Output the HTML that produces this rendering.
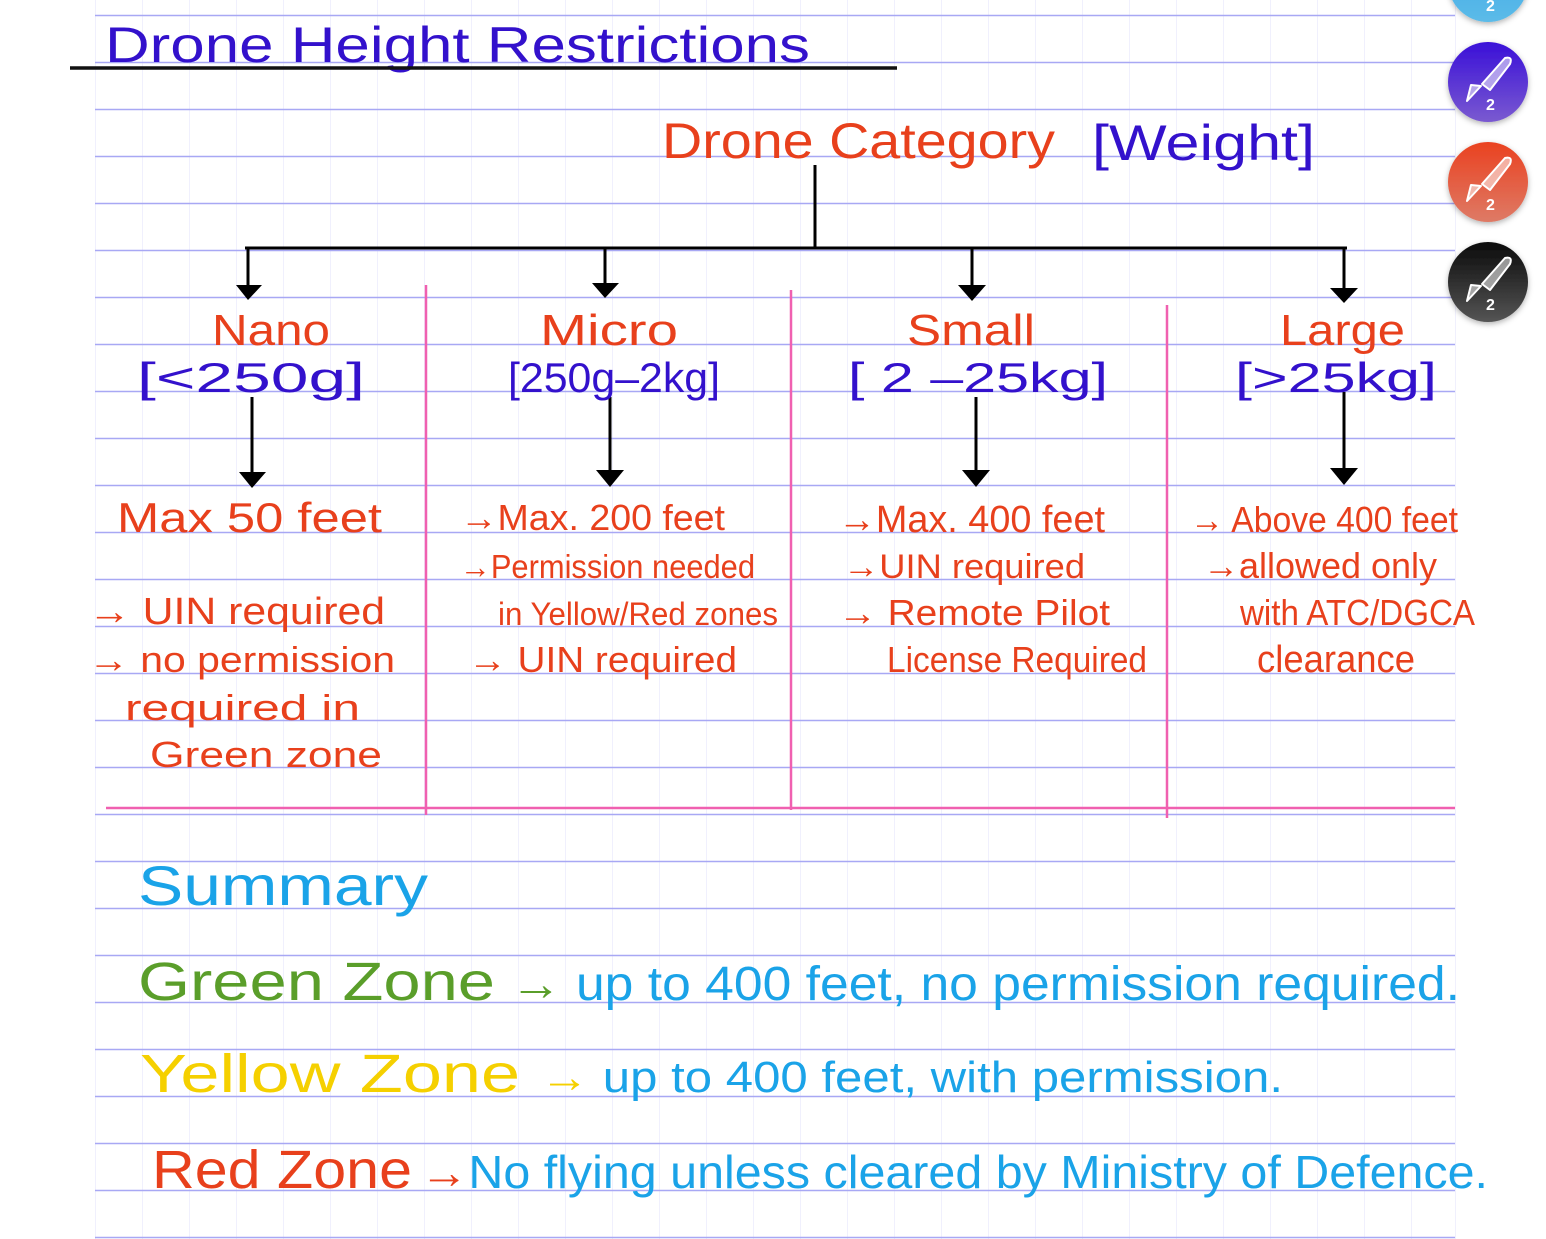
<!DOCTYPE html>
<html><head><meta charset="utf-8"><style>
html,body{margin:0;padding:0;background:#fff;}
svg{display:block;}
text{font-family:"Liberation Sans",sans-serif;}
</style></head><body>
<svg width="1546" height="1239" viewBox="0 0 1546 1239" xmlns="http://www.w3.org/2000/svg">
<defs>
<linearGradient id="gc" x1="0" y1="0" x2="0" y2="1"><stop offset="0" stop-color="#3aa6e6"/><stop offset="1" stop-color="#5cbbe8"/></linearGradient>
<linearGradient id="gp" x1="0" y1="0" x2="0" y2="1"><stop offset="0" stop-color="#3a10d8"/><stop offset="1" stop-color="#7a5ad0"/></linearGradient>
<linearGradient id="gr" x1="0" y1="0" x2="0" y2="1"><stop offset="0" stop-color="#ea4220"/><stop offset="1" stop-color="#de7a66"/></linearGradient>
<linearGradient id="gk" x1="0" y1="0" x2="0" y2="1"><stop offset="0" stop-color="#0a0a0a"/><stop offset="1" stop-color="#555"/></linearGradient>
<filter id="sh" x="-30%" y="-30%" width="160%" height="160%"><feDropShadow dx="0" dy="2" stdDeviation="3" flood-opacity="0.3"/></filter>
</defs>
<g stroke="#f0f0fd" stroke-width="1">
<line x1="95.5" y1="0" x2="95.5" y2="1239"/><line x1="142.5" y1="0" x2="142.5" y2="1239"/><line x1="189.5" y1="0" x2="189.5" y2="1239"/><line x1="236.5" y1="0" x2="236.5" y2="1239"/><line x1="283.5" y1="0" x2="283.5" y2="1239"/><line x1="330.5" y1="0" x2="330.5" y2="1239"/><line x1="377.5" y1="0" x2="377.5" y2="1239"/><line x1="424.5" y1="0" x2="424.5" y2="1239"/><line x1="471.5" y1="0" x2="471.5" y2="1239"/><line x1="518.5" y1="0" x2="518.5" y2="1239"/><line x1="565.5" y1="0" x2="565.5" y2="1239"/><line x1="612.5" y1="0" x2="612.5" y2="1239"/><line x1="659.5" y1="0" x2="659.5" y2="1239"/><line x1="706.5" y1="0" x2="706.5" y2="1239"/><line x1="753.5" y1="0" x2="753.5" y2="1239"/><line x1="800.5" y1="0" x2="800.5" y2="1239"/><line x1="847.5" y1="0" x2="847.5" y2="1239"/><line x1="894.5" y1="0" x2="894.5" y2="1239"/><line x1="941.5" y1="0" x2="941.5" y2="1239"/><line x1="988.5" y1="0" x2="988.5" y2="1239"/><line x1="1035.5" y1="0" x2="1035.5" y2="1239"/><line x1="1082.5" y1="0" x2="1082.5" y2="1239"/><line x1="1129.5" y1="0" x2="1129.5" y2="1239"/><line x1="1176.5" y1="0" x2="1176.5" y2="1239"/><line x1="1223.5" y1="0" x2="1223.5" y2="1239"/><line x1="1270.5" y1="0" x2="1270.5" y2="1239"/><line x1="1317.5" y1="0" x2="1317.5" y2="1239"/><line x1="1364.5" y1="0" x2="1364.5" y2="1239"/><line x1="1411.5" y1="0" x2="1411.5" y2="1239"/><line x1="1455.5" y1="0" x2="1455.5" y2="1239"/>
</g>
<g stroke="#a8a8f4" stroke-width="1.5">
<line x1="95" y1="15.5" x2="1455" y2="15.5"/><line x1="95" y1="62.5" x2="1455" y2="62.5"/><line x1="95" y1="109.5" x2="1455" y2="109.5"/><line x1="95" y1="156.5" x2="1455" y2="156.5"/><line x1="95" y1="203.5" x2="1455" y2="203.5"/><line x1="95" y1="250.5" x2="1455" y2="250.5"/><line x1="95" y1="297.5" x2="1455" y2="297.5"/><line x1="95" y1="344.5" x2="1455" y2="344.5"/><line x1="95" y1="391.5" x2="1455" y2="391.5"/><line x1="95" y1="438.5" x2="1455" y2="438.5"/><line x1="95" y1="485.5" x2="1455" y2="485.5"/><line x1="95" y1="532.5" x2="1455" y2="532.5"/><line x1="95" y1="579.5" x2="1455" y2="579.5"/><line x1="95" y1="626.5" x2="1455" y2="626.5"/><line x1="95" y1="673.5" x2="1455" y2="673.5"/><line x1="95" y1="720.5" x2="1455" y2="720.5"/><line x1="95" y1="767.5" x2="1455" y2="767.5"/><line x1="95" y1="814.5" x2="1455" y2="814.5"/><line x1="95" y1="861.5" x2="1455" y2="861.5"/><line x1="95" y1="908.5" x2="1455" y2="908.5"/><line x1="95" y1="955.5" x2="1455" y2="955.5"/><line x1="95" y1="1002.5" x2="1455" y2="1002.5"/><line x1="95" y1="1049.5" x2="1455" y2="1049.5"/><line x1="95" y1="1096.5" x2="1455" y2="1096.5"/><line x1="95" y1="1143.5" x2="1455" y2="1143.5"/><line x1="95" y1="1190.5" x2="1455" y2="1190.5"/><line x1="95" y1="1237.5" x2="1455" y2="1237.5"/>
</g>
<text x="105" y="62" font-size="50" fill="#3311cc" textLength="705" lengthAdjust="spacingAndGlyphs">Drone  Height  Restrictions</text>
<line x1="70" y1="68" x2="897" y2="68" stroke="#111" stroke-width="3.5"/>
<text x="662" y="158" font-size="50" fill="#e8401c" textLength="393" lengthAdjust="spacingAndGlyphs">Drone  Category</text>
<text x="1092" y="160" font-size="50" fill="#3311cc" textLength="223" lengthAdjust="spacingAndGlyphs">[Weight]</text>
<g stroke="#000" stroke-width="3" fill="none">
<line x1="815" y1="165" x2="815" y2="248"/>
<line x1="245" y1="248" x2="1347" y2="248"/>
<line x1="248" y1="248" x2="248" y2="288"/>
<line x1="605" y1="248" x2="605" y2="288"/>
<line x1="972" y1="248" x2="972" y2="288"/>
<line x1="1344" y1="248" x2="1344" y2="290"/>
<line x1="252" y1="397" x2="252" y2="475"/>
<line x1="610" y1="397" x2="610" y2="472"/>
<line x1="976" y1="397" x2="976" y2="472"/>
<line x1="1344" y1="392" x2="1344" y2="470"/>
</g>
<g fill="#000">
<polygon points="236,285 262,285 248,300"/>
<polygon points="592,283 619,283 605,298"/>
<polygon points="958,285 986,285 972,301"/>
<polygon points="1330,288 1358,288 1344,303"/>
<polygon points="239,472 266,472 252,488"/>
<polygon points="596,470 624,470 610,487"/>
<polygon points="962,470 990,470 976,487"/>
<polygon points="1330,468 1358,468 1344,485"/>
</g>
<g stroke="#f060b0" stroke-width="2.5">
<line x1="426" y1="285" x2="426" y2="815"/>
<line x1="791" y1="290" x2="791" y2="810"/>
<line x1="1167" y1="305" x2="1167" y2="818"/>
<line x1="106" y1="808" x2="1455" y2="808"/>
</g>
<g font-size="44" fill="#e8401c">
<text x="212" y="345" textLength="118" lengthAdjust="spacingAndGlyphs">Nano</text>
<text x="540" y="345" textLength="138" lengthAdjust="spacingAndGlyphs">Micro</text>
<text x="907" y="345" textLength="128" lengthAdjust="spacingAndGlyphs">Small</text>
<text x="1280" y="345" textLength="125" lengthAdjust="spacingAndGlyphs">Large</text>
</g>
<g font-size="42" fill="#3311cc">
<text x="137" y="392" textLength="228" lengthAdjust="spacingAndGlyphs">[&lt;250g]</text>
<text x="508" y="392" textLength="212" lengthAdjust="spacingAndGlyphs">[250g–2kg]</text>
<text x="848" y="392" textLength="260" lengthAdjust="spacingAndGlyphs">[  2 –25kg]</text>
<text x="1235" y="392" textLength="202" lengthAdjust="spacingAndGlyphs">[&gt;25kg]</text>
</g>
<g fill="#e8401c">
<text x="117" y="532" font-size="42" textLength="265" lengthAdjust="spacingAndGlyphs">Max  50 feet</text>
<text x="88" y="624" font-size="38" textLength="297" lengthAdjust="spacingAndGlyphs">→ UIN required</text>
<text x="88" y="672" font-size="36" textLength="307" lengthAdjust="spacingAndGlyphs">→ no permission</text>
<text x="125" y="720" font-size="36" textLength="235" lengthAdjust="spacingAndGlyphs">required  in</text>
<text x="150" y="767" font-size="36" textLength="232" lengthAdjust="spacingAndGlyphs">Green  zone</text>

<text x="460" y="530" font-size="36" textLength="265" lengthAdjust="spacingAndGlyphs">→Max. 200 feet</text>
<text x="460" y="578" font-size="33" textLength="295" lengthAdjust="spacingAndGlyphs">→Permission  needed</text>
<text x="498" y="625" font-size="32" textLength="280" lengthAdjust="spacingAndGlyphs">in Yellow/Red zones</text>
<text x="468" y="672" font-size="36" textLength="269" lengthAdjust="spacingAndGlyphs">→ UIN required</text>

<text x="838" y="532" font-size="38" textLength="267" lengthAdjust="spacingAndGlyphs">→Max. 400 feet</text>
<text x="843" y="578" font-size="34" textLength="242" lengthAdjust="spacingAndGlyphs">→UIN required</text>
<text x="838" y="625" font-size="36" textLength="272" lengthAdjust="spacingAndGlyphs">→ Remote  Pilot</text>
<text x="887" y="672" font-size="36" textLength="260" lengthAdjust="spacingAndGlyphs">License  Required</text>

<text x="1190" y="532" font-size="36" textLength="268" lengthAdjust="spacingAndGlyphs">→ Above 400 feet</text>
<text x="1203" y="578" font-size="36" textLength="234" lengthAdjust="spacingAndGlyphs">→allowed  only</text>
<text x="1240" y="625" font-size="36" textLength="235" lengthAdjust="spacingAndGlyphs">with ATC/DGCA</text>
<text x="1257" y="672" font-size="38" textLength="158" lengthAdjust="spacingAndGlyphs">clearance</text>
</g>
<text x="138" y="905" font-size="56" fill="#1aa3e8" textLength="290" lengthAdjust="spacingAndGlyphs">Summary</text>
<text x="138" y="1000" font-size="54" fill="#5a9e2a" textLength="357" lengthAdjust="spacingAndGlyphs">Green  Zone</text>
<text x="510" y="1000" font-size="48" fill="#1aa3e8" textLength="950" lengthAdjust="spacingAndGlyphs"><tspan fill="#5a9e2a">→</tspan> up  to  400 feet, no permission required.</text>
<text x="140" y="1092" font-size="54" fill="#f5d000" textLength="380" lengthAdjust="spacingAndGlyphs">Yellow  Zone</text>
<text x="540" y="1092" font-size="44" fill="#1aa3e8" textLength="743" lengthAdjust="spacingAndGlyphs"><tspan fill="#f5d000">→</tspan> up to 400 feet, with permission.</text>
<text x="152" y="1188" font-size="54" fill="#e8401c" textLength="260" lengthAdjust="spacingAndGlyphs">Red  Zone</text>
<text x="420" y="1188" font-size="46" fill="#1aa3e8" textLength="1068" lengthAdjust="spacingAndGlyphs"><tspan fill="#e8401c">→</tspan>No  flying  unless  cleared  by  Ministry of Defence.</text>
<g filter="url(#sh)">
<circle cx="1488" cy="-18" r="40" fill="url(#gc)"/>
<circle cx="1488" cy="82" r="40" fill="url(#gp)"/>
<circle cx="1488" cy="182" r="40" fill="url(#gr)"/>
<circle cx="1488" cy="282" r="40" fill="url(#gk)"/>
</g>
<g fill="rgba(255,255,255,0.55)" stroke="#fff" stroke-width="2" stroke-linejoin="round">
<path d="M1505,58 q8,-2 5,6 l-20,26 -8,-6z"/>
<path d="M1505,158 q8,-2 5,6 l-20,26 -8,-6z"/>
<path d="M1505,258 q8,-2 5,6 l-20,26 -8,-6z"/>
<path d="M1481,86 l-14,15 4,-16z"/>
<path d="M1481,186 l-14,15 4,-16z"/>
<path d="M1481,286 l-14,15 4,-16z"/>
</g>
<g font-size="16" font-weight="bold" fill="#fff">
<text x="1486" y="11">2</text>
<text x="1486" y="110">2</text>
<text x="1486" y="210">2</text>
<text x="1486" y="310">2</text>
</g>
</svg>
</body></html>
